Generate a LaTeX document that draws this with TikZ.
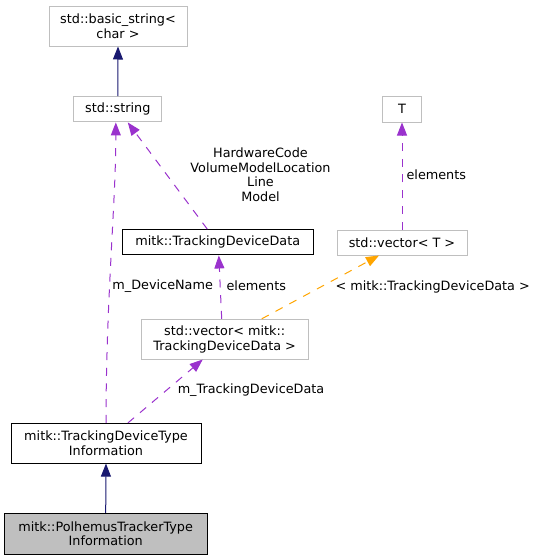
\documentclass[tikz,border=0pt]{standalone}
\usepackage{fontspec}
\setmainfont{DejaVu Sans}
\usetikzlibrary{arrows.meta}
\definecolor{inhblue}{HTML}{191970}
\definecolor{usepurple}{HTML}{9A32CD}
\definecolor{tmplorange}{HTML}{FFA500}
\definecolor{boxgray}{HTML}{BFBFBF}

\begin{document}
\begin{tikzpicture}[x=1pt,y=-1pt,font=\fontsize{12.8}{14.7}\selectfont,
    cls/.style={draw=boxgray,fill=white,align=center,inner sep=0pt,line width=1pt},
    doc/.style={cls,draw=black},
    cur/.style={cls,draw=black,fill=boxgray},
    lbl/.style={inner sep=0pt,align=center},
    tip/.style={-{Triangle[length=13pt,width=10pt]}},
    inh/.style={tip,draw=inhblue,line width=1pt},
    dep/.style={tip,draw=usepurple,line width=1pt,dash pattern=on 8pt off 7.7pt},
    tpl/.style={tip,draw=tmplorange,line width=1pt,dash pattern=on 8pt off 7.7pt}]
    \useasboundingbox (0,0) rectangle (538,560);
    % boxes
    \node[cls,minimum width=138pt,minimum height=40pt] (basic) at (118,26) {std::basic\_string<\\char >};
    \node[cls,minimum width=87.7pt,minimum height=25.3pt] (str) at (117.8,109.3) {std::string};
    \node[cls,minimum width=39.3pt,minimum height=26pt] (T) at (402,109) {T};
    \node[doc,minimum width=191pt,minimum height=25.3pt] (tdd) at (217.8,242.3) {mitk::TrackingDeviceData};
    \node[cls,minimum width=130pt,minimum height=25pt] (vecT) at (402,242.5) {std::vector< T >};
    \node[cls,minimum width=167.3pt,minimum height=39.7pt] (vecTDD) at (224.7,339.2) {std::vector< mitk::\\TrackingDeviceData >};
    \node[doc,minimum width=190pt,minimum height=39.7pt] (tdti) at (106,443.2) {mitk::TrackingDeviceType\\Information};
    \node[cur,minimum width=202.7pt,minimum height=41pt] (ptti) at (105.7,533.8) {mitk::PolhemusTrackerType\\Information};
    % edges
    \draw[inh] (str.north) -- (basic.south);
    \draw[inh] (ptti.north) -- (tdti.south);
    \draw[dep] (tdti.north) .. controls (106,300) and (116,200) .. ([xshift=-2pt]str.south);
    \draw[dep] ([xshift=-10.5pt]tdd.north) -- ([xshift=10pt]str.south);
    \draw[dep] ([xshift=-3pt]vecTDD.north) -- ([xshift=1pt]tdd.south);
    \draw[tpl] ([xshift=37pt]vecTDD.north) -- ([xshift=-23pt]vecT.south);
    \draw[dep] (vecT.north) -- (T.south);
    \draw[dep] ([xshift=22pt]tdti.north) -- ([xshift=-22pt]vecTDD.south);
    % edge labels
    \node[lbl] (lblDevName) at (162.7,286) {m\_DeviceName};
    \node[lbl] (lblMembers) at (260.5,174.7) {HardwareCode\\VolumeModelLocation\\Line\\Model};
    \node[lbl] (lblElemA) at (256.3,286) {elements};
    \node[lbl] (lblInst) at (432.7,286.7) {< mitk::TrackingDeviceData >};
    \node[lbl] (lblElemB) at (436.3,174.3) {elements};
    \node[lbl] (lblTDD) at (251,390) {m\_TrackingDeviceData};
\end{tikzpicture}
\end{document}
